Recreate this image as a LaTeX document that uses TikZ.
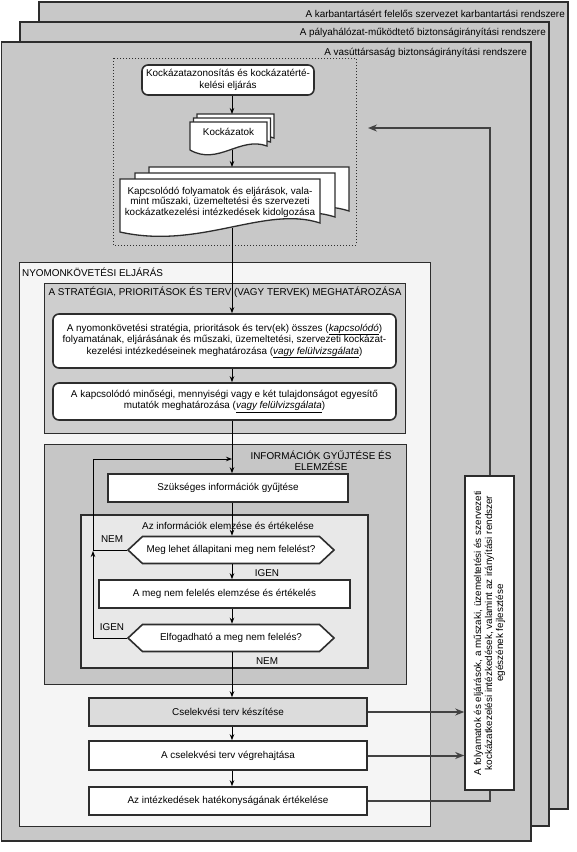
\documentclass[tikz,border=0pt]{standalone}
\usepackage{fontspec}
\setmainfont{Liberation Sans}
\usetikzlibrary{shapes.symbols,arrows.meta}

\definecolor{panelgray}{RGB}{200,200,200}
\definecolor{papergray}{RGB}{245,245,245}
\definecolor{stratgray}{RGB}{206,206,206}
\definecolor{infogray}{RGB}{198,198,198}
\definecolor{innergray}{RGB}{232,232,232}
\definecolor{actgray}{RGB}{220,220,220}
\definecolor{linegray}{RGB}{45,45,45}

\begin{document}
\begin{tikzpicture}[x=1pt,y=-1pt,
    font=\fontsize{9.9}{11.3}\selectfont,
    panel/.style={draw=linegray,line width=1.4pt,fill=panelgray},
    frame/.style={draw=linegray,line width=1pt},
    box/.style={draw=linegray,line width=1.6pt,fill=white,align=center,inner sep=2pt},
    rbox/.style={box,rounded corners=6pt},
    hexbox/.style={box,shape=signal,signal to=east and west,signal pointer angle=86,
        minimum width=206pt,minimum height=27pt},
    docpage/.style={draw=linegray,line width=1.3pt,fill=white},
    lbl/.style={inner sep=0pt},
    arr/.style={line width=0.9pt,-{Stealth[length=6pt,width=4.5pt]}},
    fb/.style={draw=linegray!90,line width=2pt},
    fbarr/.style={fb,-{Stealth[length=9pt,width=7pt,inset=3pt]}}]
    \useasboundingbox (0,0) rectangle (577,852);
    \fill[white] (0,0) rectangle (577,852);
    \coordinate (ax) at (232,0);

    \draw[panel] (39,2) rectangle (568,809);
    \node[lbl,anchor=east] (lbkarb) at (565,14) {A karbantartásért felelős szervezet karbantartási rendszere};
    \draw[panel] (20,22) rectangle (549,826);
    \node[lbl,anchor=east] (lbpaly) at (546,33) {A pályahálózat-működtető biztonságirányítási rendszere};
    \draw[panel] (1.5,42) rectangle (531,841);
    \node[lbl,anchor=east] (lbvasut) at (527,53) {A vasúttársaság biztonságirányítási rendszere};

    \draw[frame,dotted] (113,58) rectangle (356,245);
    \node[rbox,minimum width=172pt,minimum height=30pt] (azon) at (228,80)
        {Kockázatazonosítás és kockázatérté-\\kelési eljárás};
    \foreach \dx/\dy in {7/-8,3.5/-4,0/0}
        \draw[docpage,shift={(\dx,\dy)}] (190,122) -- (267,122) -- (267,146)
            .. controls (240,136) and (218,166) .. (190,150) -- cycle;
    \node (kock) at (228.5,132) {Kockázatok};
    \foreach \dx/\dy in {29/-12,15/-6,0/0}
        \draw[docpage,shift={(\dx,\dy)}] (120,179) -- (320,179) -- (320,223)
            .. controls (265,205) and (200,250) .. (120,232) -- cycle;
    \node[align=center,font=\fontsize{9.9}{10.4}\selectfont] (kapcs) at (220,202)
        {Kapcsolódó folyamatok és eljárások, vala-\\mint műszaki, üzemeltetési és szervezeti\\kockázatkezelési intézkedések kidolgozása};
    \coordinate (kocktop) at (232,114);
    \coordinate (kockbot) at (232,150);
    \coordinate (kapcstop) at (232,167);
    \coordinate (kapcsbot) at (232,228);
    \coordinate (ret) at (368,128);

    \draw[frame,fill=papergray] (19,262) rectangle (430,826);
    \node[lbl,anchor=west] (lbnyom) at (22,272) {NYOMONKÖVETÉSI ELJÁRÁS};
    \draw[frame,fill=stratgray] (44,283) rectangle (405,433);
    \node[lbl] (lbstrat) at (225,292) {A STRATÉGIA, PRIORITÁSOK ÉS TERV (VAGY TERVEK) MEGHATÁROZÁSA};
    \node[rbox,minimum width=343pt,minimum height=54pt,font=\fontsize{9.9}{11.6}\selectfont] (strat) at (224.5,341)
        {A nyomonkövetési stratégia, prioritások és terv(ek) összes (\underline{\textit{kapcsolódó}})\\folyamatának, eljárásának és műszaki, üzemeltetési, szervezeti kockázat-\\kezelési intézkedéseinek meghatározása (\underline{\textit{vagy felülvizsgálata}})};
    \node[rbox,minimum width=343pt,minimum height=37pt] (mutat) at (224.5,401.5)
        {A kapcsolódó minőségi, mennyiségi vagy e két tulajdonságot egyesítő\\mutatók meghatározása (\underline{\textit{vagy felülvizsgálata}})};

    \draw[frame,fill=infogray] (44,444) rectangle (406,684);
    \node[lbl,align=center] (lbinfo) at (321,461) {INFORMÁCIÓK GYŰJTÉSE ÉS\\ELEMZÉSE};
    \node[box,minimum width=240pt,minimum height=28pt] (gyujt) at (228,488) {Szükséges információk gyűjtése};
    \draw[frame,line width=1.5pt,fill=innergray] (81,515) rectangle (368,668);
    \node[lbl] (lbelem) at (228,526) {Az információk elemzése és értékelése};
    \node[hexbox] (hexa) at (231,550) {Meg lehet állapitani meg nem felelést?};
    \node[box,minimum width=251pt,minimum height=28pt] (elemz) at (224.5,594) {A meg nem felelés elemzése és értékelés};
    \node[hexbox] (hexb) at (231,638) {Elfogadható a meg nem felelés?};
    \node[lbl] (nema) at (112,539) {NEM};
    \node[lbl] (igena) at (267,573) {IGEN};
    \node[lbl] (igenb) at (112,627) {IGEN};
    \node[lbl] (nemb) at (267,661) {NEM};
    \coordinate (lptop) at (93,459);
    \coordinate (lpmid) at (93,551);

    \node[box,fill=actgray,minimum width=278pt,minimum height=28pt] (cselek) at (228,712) {Cselekvési terv készítése};
    \node[box,minimum width=278pt,minimum height=29pt] (vegreh) at (228,755.5) {A cselekvési terv végrehajtása};
    \node[box,minimum width=278pt,minimum height=28pt] (hatek) at (228,801) {Az intézkedések hatékonyságának értékelése};
    \node[box,rotate=90,minimum width=314pt,minimum height=49pt,font=\fontsize{9.9}{11}\selectfont] (fejl) at (489.5,633)
        {A folyamatok és eljárások, a műszaki, üzemeltetési és szervezeti\\kockázatkezelési intézkedések, valamint az irányítási rendszer\\egészének fejlesztése};

    \draw[arr] (azon.south -| ax) -- (kocktop);
    \draw[arr] (kockbot) -- (kapcstop);
    \draw[arr] (kapcsbot) -- (strat.north -| ax);
    \draw[arr] (strat.south -| ax) -- (mutat.north -| ax);
    \draw[arr] (mutat.south -| ax) -- (gyujt.north -| ax);
    \draw[arr] (gyujt.south -| ax) -- (hexa.north -| ax);
    \draw[arr] (hexa.south -| ax) -- (elemz.north -| ax);
    \draw[arr] (elemz.south -| ax) -- (hexb.north -| ax);
    \draw[arr] (hexb.south -| ax) -- (cselek.north -| ax);
    \draw[arr] (cselek.south -| ax) -- (vegreh.north -| ax);
    \draw[arr] (vegreh.south -| ax) -- (hatek.north -| ax);
    \draw[arr] (hexb.west) -| (lpmid);
    \draw[arr] (hexa.west) -| (lptop) -- (lptop -| ax);

    \draw[fbarr] (cselek.east) -- (cselek.east -| fejl.north);
    \draw[fbarr] (vegreh.east) -- (vegreh.east -| fejl.north);
    \draw[fb] (hatek.east) -| (fejl.west);
    \draw[fbarr] (fejl.east) |- (ret);
\end{tikzpicture}
\end{document}
